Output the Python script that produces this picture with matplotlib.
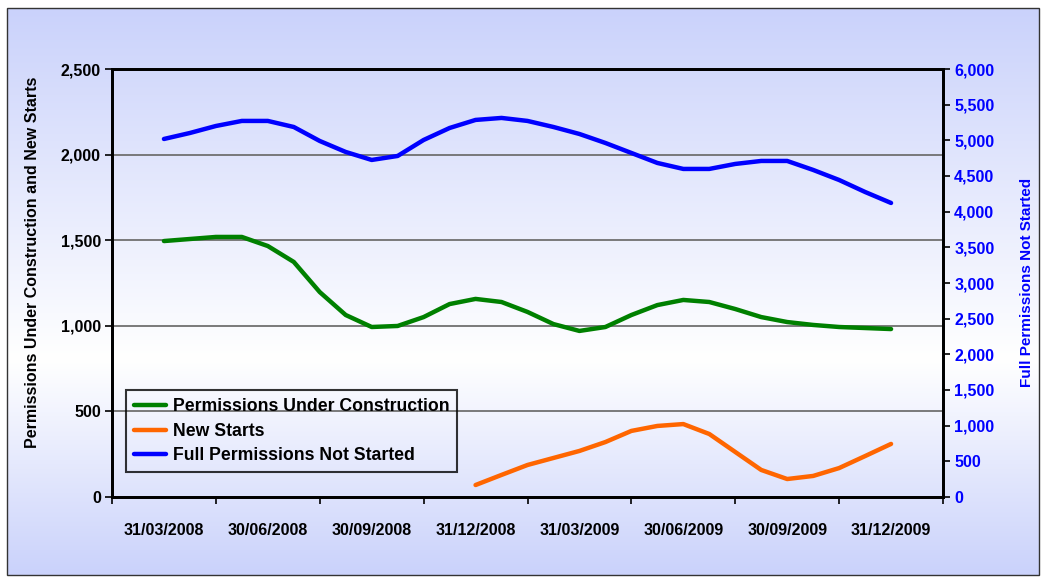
import numpy as np
import matplotlib
matplotlib.use("Agg")
import matplotlib.pyplot as plt
from matplotlib.colors import LinearSegmentedColormap
from matplotlib.patches import Rectangle

# quarter labels (category centres)
quarters = ["31/03/2008", "30/06/2008", "30/09/2008", "31/12/2008",
            "31/03/2009", "30/06/2009", "30/09/2009", "31/12/2009"]

# readings every quarter of a quarter, from 31/03/2008 to 31/12/2009
under_construction = [1495, 1507, 1519, 1519, 1466, 1373, 1197, 1063, 993,
                      999, 1051, 1127, 1157, 1139, 1081, 1010, 970, 993,
                      1063, 1121, 1151, 1139, 1098, 1051, 1022, 1005, 993,
                      987, 981]
# new starts begin at 31/12/2008
new_starts = [70, 129, 187, 228, 269, 321, 386, 415, 426, 368, 263, 158,
              105, 123, 169, 239, 310]
not_started = [5019, 5103, 5201, 5272, 5272, 5187, 4991, 4837, 4725, 4781,
               5005, 5173, 5286, 5314, 5272, 5187, 5089, 4963, 4823, 4683,
               4599, 4599, 4669, 4711, 4711, 4585, 4444, 4276, 4122]

x_all = np.arange(len(under_construction)) / 4
x_new = x_all[-len(new_starts):]

plt.rcParams["font.family"] = ["Liberation Sans", "DejaVu Sans"]
plt.rcParams["font.weight"] = "bold"

fig = plt.figure(figsize=(10.46, 5.82), dpi=100)

# background gradient inside the outer frame
bg = fig.add_axes([7 / 1046, 7 / 582, 1032 / 1046, 567 / 582])
cmap = LinearSegmentedColormap.from_list(
    "bg", [(0, "#cad2fb"), (0.62, "#ffffff"), (1, "#cad2fb")])
bg.imshow(np.linspace(0, 1, 256).reshape(-1, 1), aspect="auto", cmap=cmap,
          extent=[0, 1, 0, 1])
bg.axis("off")
fig.add_artist(Rectangle((7 / 1046, 7 / 582), 1032 / 1046, 567 / 582,
                         transform=fig.transFigure, fill=False,
                         edgecolor="#333333", lw=1))

ax = fig.add_axes([112 / 1046, 85 / 582, 831 / 1046, 428 / 582])
ax.patch.set_alpha(0)
ax2 = ax.twinx()

l1, = ax.plot(x_all, under_construction, color="#008000", lw=3.2,
              solid_capstyle="round", solid_joinstyle="round",
              label="Permissions Under Construction")
l2, = ax.plot(x_new, new_starts, color="#ff6600", lw=3.2,
              solid_capstyle="round", solid_joinstyle="round",
              label="New Starts")
l3, = ax2.plot(x_all, not_started, color="#0000ff", lw=3.2,
               solid_capstyle="round", solid_joinstyle="round",
               label="Full Permissions Not Started")

ax.set_xlim(-0.5, len(quarters) - 0.5)
ax.set_ylim(0, 2500)
ax2.set_ylim(0, 6000)

ax.set_yticks(range(0, 2501, 500))
ax.set_yticklabels([f"{v:,}" for v in range(0, 2501, 500)], fontsize=11.5)
ax2.set_yticks(range(0, 6001, 500))
ax2.set_yticklabels([f"{v:,}" for v in range(0, 6001, 500)], fontsize=11.5,
                    color="#0000ff")

ax.set_xticks(np.arange(-0.5, len(quarters), 1))
ax.set_xticklabels([])
ax.set_xticks(np.arange(len(quarters)), minor=True)
ax.set_xticklabels(quarters, minor=True, fontsize=11.5)
ax.tick_params(axis="x", which="minor", length=0, pad=19)
ax.tick_params(axis="x", which="major", length=5, width=1.2)
ax.tick_params(axis="y", length=5, width=1.2, pad=3)
ax2.tick_params(axis="y", length=5, width=1.2, pad=3)

ax.grid(axis="y", color="#707070", lw=1.3)
ax.set_axisbelow(True)
for a in (ax, ax2):
    for s in a.spines.values():
        s.set_linewidth(2)
        s.set_color("black")

ax.set_ylabel("Permissions Under Construction and New Starts", fontsize=11.5,
              fontweight="bold")
ax.yaxis.set_label_coords(-0.0866, 0.549)
ax2.set_ylabel("Full Permissions Not Started", fontsize=11,
               fontweight="bold", color="#0000ff")
ax2.yaxis.set_label_coords(1.0927, 0.502)

leg = ax.legend(handles=[l1, l2, l3], loc="lower left",
                bbox_to_anchor=(0.017, 0.058), borderaxespad=0,
                prop={"weight": "bold", "size": 12.7},
                handlelength=1.8, handletextpad=0.4, labelspacing=0.42,
                borderpad=0.45, fancybox=False, edgecolor="black",
                facecolor="none")
leg.get_frame().set_linewidth(1.5)

fig.savefig("out.png", dpi=100)
